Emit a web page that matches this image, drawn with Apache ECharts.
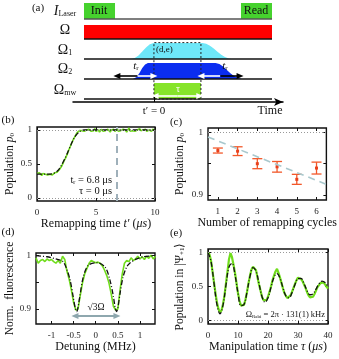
<!DOCTYPE html>
<html>
<head>
<meta charset="utf-8">
<script src="https://cdn.jsdelivr.net/npm/echarts@6/dist/echarts.min.js"></script>
<style>
    html, body {margin: 0; padding: 0; background: #fff;}
    #chart {width: 339px; height: 359px;}
</style>
</head>
<body>
<div id="chart"></div>
<script>
    const FONT = 'Liberation Serif';

    // (a) pulse scheme, time in schematic units 0..100
    const laserPulses = [[0, 16.5], [83.5, 100]];
    const omegaPulse = [0, 100];
    const mwPulse = [37.2, 62.2];
    const omega1Shape = [[25, 0], [27, 0.05], [29, 0.17], [31, 0.37], [33, 0.58], [35, 0.74], [37, 0.8],
        [63, 0.8], [65, 0.76], [67, 0.66], [69, 0.52], [71, 0.36], [73, 0.21], [75, 0.1], [77, 0.03], [78.5, 0]];
    const omega2Shape = [[26, 0], [28, 0.1], [29.5, 0.3], [31, 0.55], [32.5, 0.72], [34, 0.8],
        [70, 0.8], [72, 0.75], [74, 0.62], [76, 0.45], [78, 0.28], [80, 0.14], [82, 0.05], [84, 0]];
    const rampLeft = [17.5, 28.5, 37.2];   // outer tip, colour change, inner tip
    const rampRight = [62.2, 72.5, 83];
    const rowNames = ['{i|I}{s|Laser}', '{n|Ω}', '{n|Ω}{s|1}', '{n|Ω}{s|2}', '{n|Ω}{s|mw}'];
    const rowLabelPos = [4.4, 3.45, 2.45, 1.5, 0.45];

    // (b) remapping time scan
    const B_STEP = 0.1;
    const bPop = [0.36, 0.34, 0.37, 0.35, 0.33, 0.36, 0.34, 0.35, 0.37, 0.34, 0.33, 0.35, 0.36,
        0.34, 0.35, 0.37, 0.36, 0.38, 0.40, 0.42,
        0.44, 0.47, 0.51, 0.55, 0.58, 0.62, 0.66, 0.71, 0.75, 0.79, 0.83,
        0.87, 0.90, 0.93, 0.96, 0.98, 0.99, 1.00, 0.99, 1.01, 0.98,
        0.99, 1.00, 0.98, 1.01, 0.99, 0.98, 1.00, 0.99, 1.02, 0.98,
        0.99, 1.00, 0.97, 0.99, 1.01, 0.98, 1.00, 0.99, 0.98, 1.01,
        0.99, 0.97, 1.00, 0.99, 1.01, 0.98, 0.99, 1.02, 0.98, 1.00,
        0.99, 0.98, 1.01, 0.99, 1.00, 0.97, 0.99, 1.03, 0.98, 1.00,
        0.99, 1.01, 0.98, 0.99, 1.00, 0.98, 1.02, 0.99, 0.98, 1.00,
        0.99, 1.01, 0.98, 0.99, 1.00, 0.99, 0.98, 1.01, 0.99, 1.00];
    const bFitT = [0, 0.5, 1, 1.25, 1.5, 1.75, 2, 2.25, 2.5, 2.75, 3, 3.25, 3.5, 3.75, 4, 4.5, 5, 6, 7, 8, 9, 10];
    const bFit = [0.35, 0.35, 0.35, 0.355, 0.37, 0.40, 0.46, 0.54, 0.63, 0.73, 0.83, 0.91, 0.96, 0.99, 1.0, 1.0, 1.0, 1.0, 1.0, 1.0, 1.0, 1.0];
    const tRemap = 6.8;

    // (c) repeated remapping
    const cycles = [1, 2, 3, 4, 5, 6];
    const cPop = [0.971, 0.970, 0.950, 0.945, 0.925, 0.943];
    const cErr = [0.004, 0.007, 0.008, 0.0085, 0.008, 0.0095];
    const cTrendX = [0.5, 6.5];
    const cTrendY = [0.9926, 0.917];

    // (d) fluorescence spectrum
    const D_START = -1.35, D_STEP = 0.05;
    const dFl = [0.995, 0.985, 0.990, 0.992, 0.988, 0.993, 0.990, 0.992, 0.988, 0.985,
        0.990, 0.985, 0.998, 0.992, 0.970, 0.955, 0.935, 0.912, 0.898, 0.900,
        0.925, 0.948, 0.965, 0.975, 0.985, 0.990, 0.988, 0.986, 0.987, 0.985,
        0.980, 0.972, 0.962, 0.948, 0.928, 0.905, 0.898, 0.900, 0.935, 0.965,
        0.985, 0.990, 0.988, 0.995, 0.990, 0.993, 0.998, 0.993, 0.997, 0.992,
        0.998, 0.994, 1.000, 0.993, 0.998];
    const dFitX = [-1.35, -1.1, -0.9, -0.74, -0.66, -0.58, -0.51, -0.46, -0.43, -0.40, -0.36, -0.28, -0.17, 0.02,
        0.21, 0.32, 0.40, 0.44, 0.47, 0.50, 0.55, 0.62, 0.70, 0.77, 0.9, 1.07, 1.34];
    const dFit = [0.999, 0.997, 0.993, 0.988, 0.975, 0.954, 0.923, 0.900, 0.895, 0.903, 0.923, 0.960, 0.981, 0.986,
        0.978, 0.954, 0.923, 0.902, 0.895, 0.902, 0.929, 0.960, 0.978, 0.985, 0.992, 0.997, 0.999];
    const splitting = [-0.47, 0.48];

    // (e) Rabi oscillation
    const E_STEP = 0.5;
    const ePop = [1.0, 0.97, 0.88, 0.72, 0.56, 0.4, 0.26, 0.17, 0.12, 0.15,
        0.24, 0.37, 0.55, 0.72, 0.9, 0.99, 0.93, 0.82, 0.7, 0.55,
        0.4, 0.29, 0.22, 0.2, 0.23, 0.31, 0.42, 0.55, 0.66, 0.75,
        0.79, 0.8, 0.74, 0.63, 0.53, 0.44, 0.35, 0.3, 0.28, 0.3,
        0.35, 0.42, 0.5, 0.59, 0.66, 0.72, 0.76, 0.7, 0.63, 0.55,
        0.47, 0.4, 0.36, 0.33, 0.34, 0.37, 0.42, 0.48, 0.54, 0.59,
        0.63, 0.64, 0.61, 0.58, 0.53, 0.48, 0.42, 0.37, 0.34, 0.33,
        0.35, 0.39, 0.44, 0.49, 0.52, 0.55, 0.54, 0.56, 0.53, 0.5, 0.47];
    const eFit = [1.0, 0.868, 0.55, 0.232, 0.10, 0.227, 0.523, 0.786, 0.84, 0.671, 0.404,
        0.218, 0.235, 0.419, 0.648, 0.776, 0.726, 0.546, 0.352, 0.27, 0.335,
        0.488, 0.637, 0.689, 0.621, 0.48, 0.36, 0.335, 0.409, 0.529, 0.617,
        0.619, 0.544, 0.442, 0.379, 0.392, 0.461, 0.54, 0.58, 0.558, 0.495];

    const GREEN = '#70dd1c';
    const PULSE_H = 0.8;

    let chart = echarts.init(document.getElementById('chart'));

    function rich(size) {
        return {
            n: {fontFamily: FONT, fontSize: size, color: '#111'},
            i: {fontFamily: FONT, fontSize: size, fontStyle: 'italic', color: '#111'},
            s: {fontFamily: FONT, fontSize: Math.round(size * 0.6), color: '#111', verticalAlign: 'bottom'}
        };
    }

    let xAxes = [];
    let yAxes = [];
    let grids = [];

    // panel (a) scheme grid
    grids.push({left: 73, top: 0, width: 210, height: 102, show: false});
    xAxes.push({
        gridIndex: 0, type: 'value', min: -5.85, max: 105.85,
        axisLine: {show: true, onZero: false, symbol: ['none', 'arrow'], symbolSize: [6, 9], lineStyle: {color: '#000', width: 1.5}},
        axisTick: {show: false}, axisLabel: {show: false}, splitLine: {show: false}
    });
    yAxes.push({
        gridIndex: 0, type: 'value', min: -0.15, max: 4.95,
        axisLine: {show: false, onZero: false}, axisTick: {show: false}, splitLine: {show: false},
        axisLabel: {
            customValues: rowLabelPos, align: 'center', margin: 8,
            formatter: function (v) {
                let k = 0;
                rowLabelPos.forEach((p, i) => { if (Math.abs(p - v) < Math.abs(rowLabelPos[k] - v)) k = i; });
                return rowNames[k];
            },
            rich: rich(14)
        }
    });

    function framePanel(box, xr, yr, xTicks, yTicks, xLabels, yLabels, xName, yName, xGap, yGap) {
        let g = grids.length;
        grids.push({left: box[0], top: box[1], width: box[2], height: box[3], show: true, borderColor: '#111', borderWidth: 1.4});
        let tick = {inside: true, length: 3, lineStyle: {color: '#111', width: 1}};
        let noLine = {show: false, onZero: false};
        let xi = xAxes.length, yi = yAxes.length;
        xAxes.push({
            gridIndex: g, type: 'value', min: xr[0], max: xr[1], name: xName, nameLocation: 'middle', nameGap: xGap,
            nameTextStyle: {fontFamily: FONT, fontSize: 12, color: '#111', rich: rich(12)},
            axisLine: noLine, axisTick: Object.assign({customValues: xTicks}, tick),
            axisLabel: {customValues: xLabels, fontFamily: FONT, fontSize: 9, color: '#222', margin: 7},
            splitLine: {show: false}
        });
        xAxes.push({
            gridIndex: g, type: 'value', position: 'top', min: xr[0], max: xr[1],
            axisLine: noLine, axisTick: Object.assign({customValues: xTicks}, tick),
            axisLabel: {show: false}, splitLine: {show: false}
        });
        yAxes.push({
            gridIndex: g, type: 'value', min: yr[0], max: yr[1], name: yName, nameLocation: 'middle', nameGap: yGap,
            nameTextStyle: {fontFamily: FONT, fontSize: 11.5, color: '#111', rich: rich(11.5)},
            axisLine: noLine, axisTick: Object.assign({customValues: yTicks}, tick),
            axisLabel: {customValues: yLabels, fontFamily: FONT, fontSize: 9, color: '#222', margin: 5},
            splitLine: {show: false}
        });
        yAxes.push({
            gridIndex: g, type: 'value', position: 'right', min: yr[0], max: yr[1],
            axisLine: noLine, axisTick: Object.assign({customValues: yTicks}, tick),
            axisLabel: {show: false}, splitLine: {show: false}
        });
        return {xAxisIndex: xi, yAxisIndex: yi};
    }

    let pb = framePanel([37, 127, 118, 74], [0, 10], [-0.044, 1.044], [0, 5, 10], [0, 0.5, 1], [0, 5, 10], [0, 0.5, 1],
        '{n|Remapping time }{i|t′}{n| (}{i|μs}{n|)}', '{n|Population }{i|p}{s|0}', 15, 21);
    let pc = framePanel([208, 128, 120, 72], [0.5, 6.5], [0.892, 1.007], cycles, [0.9, 0.95, 1], cycles, [0.9, 1],
        '{n|Number of remapping cycles}', '{n|Population }{i|p}{s|0}', 15, 22);
    let pd = framePanel([36, 253, 119, 71], [-1.35, 1.34], [0.872, 1.004], [-1, -0.5, 0, 0.5, 1], [0.9, 0.95, 1],
        [-1, -0.5, 0, 0.5, 1], [0.9, 1], '{n|Detuning (MHz)}', '{n|Norm.  fluorescence}', 16, 20);
    let pe = framePanel([208, 249, 120, 75], [0, 40], [-0.05, 1.05], [0, 10, 20, 30, 40], [0, 0.5, 1],
        [0, 10, 20, 30, 40], [0, 0.5, 1], '{n|Manipulation time }{i|τ}{n| (}{i|μs}{n|)}', '{n|Population in |Ψ}{s|+1}{n|⟩}', 16, 22);

    let series = [];

    // ----- panel (a)
    const shapeDefs = [
        {pts: omega1Shape, row: 2, color: '#6ee7f8'},
        {pts: omega2Shape, row: 1, color: '#0b2df0'}
    ];
    series.push({
        type: 'custom', xAxisIndex: 0, yAxisIndex: 0, silent: true,
        data: shapeDefs.map((s, i) => [i, s.row]),
        renderItem: function (params, api) {
            let s = shapeDefs[params.dataIndex];
            let pts = s.pts.map(p => api.coord([p[0], s.row + p[1]]));
            return {type: 'polygon', shape: {points: pts}, style: {fill: s.color}};
        }
    });
    const rectDefs = [
        {t: laserPulses[0], row: 4, h: PULSE_H, color: '#46d22e'},
        {t: laserPulses[1], row: 4, h: PULSE_H, color: '#46d22e'},
        {t: omegaPulse, row: 3, h: 0.7, color: '#ff0000'},
        {t: mwPulse, row: 0, h: PULSE_H, color: '#86e42a'}
    ];
    series.push({
        type: 'custom', xAxisIndex: 0, yAxisIndex: 0, silent: true,
        data: rectDefs.map(r => [r.t[0], r.t[1], r.row]),
        renderItem: function (params, api) {
            let r = rectDefs[params.dataIndex];
            let p0 = api.coord([r.t[0], r.row + r.h]);
            let p1 = api.coord([r.t[1], r.row]);
            return {type: 'rect', shape: {x: p0[0], y: p0[1], width: p1[0] - p0[0], height: p1[1] - p0[1]}, style: {fill: r.color}};
        }
    });
    const rowBase = [4, 3, 2, 1, 0];
    series.push({
        type: 'custom', xAxisIndex: 0, yAxisIndex: 0, silent: true,
        data: rowBase.map(v => [0, v]),
        renderItem: function (params, api) {
            let v = rowBase[params.dataIndex];
            let p0 = api.coord([0, v]), p1 = api.coord([100, v]);
            return {type: 'line', shape: {x1: p0[0], y1: p0[1], x2: p1[0], y2: p1[1]},
                style: {stroke: v === 4 ? '#555' : '#111', lineWidth: 1.6}};
        }
    });
    function arrow(from, to, v, color) {
        return [
            {coord: [from, v], symbol: 'none', lineStyle: {color: color, width: 1.6, type: 'solid'}},
            {coord: [to, v], symbol: 'triangle', lineStyle: {color: color, width: 1.6, type: 'solid'}}
        ];
    }
    const tauMid = (mwPulse[0] + mwPulse[1]) / 2;
    series.push({
        type: 'line', xAxisIndex: 0, yAxisIndex: 0, silent: true, z: 10, data: [[50, 2]], showSymbol: false,
        lineStyle: {opacity: 0},
        markArea: {
            silent: true, z: 10,
            itemStyle: {color: 'rgba(0,0,0,0)', borderColor: '#222', borderWidth: 1, borderType: [2, 2]},
            data: [[{coord: [mwPulse[0], 0]}, {coord: [mwPulse[1], 2.82]}]]
        },
        markLine: {
            silent: true, z: 11, symbolSize: [6, 7], label: {show: false},
            data: [
                arrow(rampLeft[1], rampLeft[0], 1.15, '#000'),
                arrow(rampLeft[1], rampLeft[2], 1.15, '#fff'),
                arrow(rampRight[1], rampRight[0], 1.15, '#fff'),
                arrow(rampRight[1], rampRight[2], 1.15, '#000'),
                arrow(tauMid, mwPulse[0] + 0.6, 0.15, '#fff'),
                arrow(tauMid, mwPulse[1] - 0.6, 0.15, '#fff'),
                [{coord: [mwPulse[0], -0.15], symbol: 'none', lineStyle: {color: '#000', width: 1, type: 'solid'}},
                    {coord: [mwPulse[0], 0.1], symbol: 'none'}]
            ]
        }
    });

    // ----- panel (b)
    series.push({
        type: 'line', xAxisIndex: pb.xAxisIndex, yAxisIndex: pb.yAxisIndex, silent: true, showSymbol: false,
        data: bPop.map((v, i) => [i * B_STEP, v]), lineStyle: {color: GREEN, width: 1.6},
        markLine: {
            silent: true, symbol: 'none', label: {show: false},
            data: [
                {yAxis: 1, lineStyle: {color: '#999', type: [1, 2], width: 1}},
                {yAxis: 0, lineStyle: {color: '#999', type: [1, 2], width: 1}},
                {xAxis: tRemap, lineStyle: {color: '#9fb0ba', type: [7, 5], width: 2}}
            ]
        }
    });
    series.push({
        type: 'line', xAxisIndex: pb.xAxisIndex, yAxisIndex: pb.yAxisIndex, silent: true, showSymbol: false, smooth: 0.4,
        data: bFitT.map((t, i) => [t, bFit[i]]), lineStyle: {color: '#111', width: 1.3, type: [5, 2, 1, 2]}
    });

    // ----- panel (c)
    series.push({
        type: 'line', xAxisIndex: pc.xAxisIndex, yAxisIndex: pc.yAxisIndex, silent: true, showSymbol: false,
        data: cTrendX.map((x, i) => [x, cTrendY[i]]), lineStyle: {color: '#a9c8cd', width: 1.6, type: [7, 5]},
        markLine: {
            silent: true, symbol: 'none', label: {show: false},
            data: [{yAxis: 1, lineStyle: {color: '#999', type: [1, 2], width: 1}}]
        }
    });
    series.push({
        type: 'custom', xAxisIndex: pc.xAxisIndex, yAxisIndex: pc.yAxisIndex, silent: true,
        data: cycles.map((c, i) => [c, cPop[i], cPop[i] - cErr[i], cPop[i] + cErr[i]]),
        renderItem: function (params, api) {
            let c = api.coord([api.value(0), api.value(1)]);
            let lo = api.coord([api.value(0), api.value(2)]);
            let hi = api.coord([api.value(0), api.value(3)]);
            let st = {stroke: '#f2582a', lineWidth: 1.3};
            return {
                type: 'group', children: [
                    {type: 'line', shape: {x1: c[0], y1: lo[1], x2: c[0], y2: hi[1]}, style: st},
                    {type: 'line', shape: {x1: c[0] - 5, y1: lo[1], x2: c[0] + 5, y2: lo[1]}, style: st},
                    {type: 'line', shape: {x1: c[0] - 5, y1: hi[1], x2: c[0] + 5, y2: hi[1]}, style: st},
                    {type: 'rect', shape: {x: c[0] - 1.5, y: c[1] - 1.5, width: 3, height: 3}, style: {fill: '#e8401c'}}
                ]
            };
        }
    });

    // ----- panel (d)
    series.push({
        type: 'line', xAxisIndex: pd.xAxisIndex, yAxisIndex: pd.yAxisIndex, silent: true, showSymbol: false,
        data: dFl.map((v, i) => [D_START + i * D_STEP, v]), lineStyle: {color: GREEN, width: 1.6},
        markLine: {
            silent: true, symbol: ['triangle', 'triangle'], symbolSize: [6, 7], label: {show: false},
            data: [[{coord: [splitting[0], 0.887]}, {coord: [splitting[1], 0.887]}]],
            lineStyle: {color: '#8ea7ae', width: 1.8, type: 'solid'}
        }
    });
    series.push({
        type: 'line', xAxisIndex: pd.xAxisIndex, yAxisIndex: pd.yAxisIndex, silent: true, showSymbol: false, smooth: 0.3,
        data: dFitX.map((x, i) => [x, dFit[i]]), lineStyle: {color: '#111', width: 1.3, type: [5, 2, 1, 2]}
    });

    // ----- panel (e)
    series.push({
        type: 'line', xAxisIndex: pe.xAxisIndex, yAxisIndex: pe.yAxisIndex, silent: true, showSymbol: false,
        data: ePop.map((v, i) => [i * E_STEP, v]), lineStyle: {color: GREEN, width: 2.2},
        markLine: {
            silent: true, symbol: 'none', label: {show: false},
            data: [
                {yAxis: 1, lineStyle: {color: '#999', type: [1, 2], width: 1}},
                {yAxis: 0, lineStyle: {color: '#999', type: [1, 2], width: 1}}
            ]
        }
    });
    series.push({
        type: 'line', xAxisIndex: pe.xAxisIndex, yAxisIndex: pe.yAxisIndex, silent: true, showSymbol: false, smooth: 0.4,
        data: eFit.map((v, i) => [i, v]), lineStyle: {color: '#111', width: 1.3, type: [5, 2, 1, 2]}
    });

    function txt(x, y, text, size, align, extra) {
        return {
            type: 'text', x: x, y: y, z: 100, silent: true,
            style: Object.assign({
                text: text, fontFamily: FONT, fontSize: size, fill: '#111',
                textAlign: align || 'center', align: align || 'center',
                textVerticalAlign: 'middle', verticalAlign: 'middle', rich: rich(size)
            }, extra || {})
        };
    }

    let option = {
        animation: false,
        backgroundColor: '#fff',
        grid: grids,
        xAxis: xAxes,
        yAxis: yAxes,
        series: series,
        graphic: [
            txt(38, 8, '(a)', 11),
            txt(99, 11, 'Init', 12),
            txt(256, 11, 'Read', 12),
            txt(156, 50, '(d,e)', 9, 'left'),
            txt(136, 66, '{i|t}{s|r}', 11),
            txt(225, 66, '{i|t}{s|r}', 11),
            txt(178, 89, 'τ', 10, 'center', {fill: '#fff'}),
            txt(154, 111, 't′ = 0', 11),
            txt(270, 111, 'Time', 12),
            txt(8, 120, '(b)', 11),
            txt(176, 122, '(c)', 11),
            txt(8, 232, '(d)', 11),
            txt(176, 233, '(e)', 11),
            txt(112, 180, '{n|t}{s|r}{n| = 6.8 μs}', 10.5, 'right'),
            txt(112, 191, 'τ = 0 μs', 10.5, 'right'),
            txt(96, 307, '√3Ω', 9.5),
            txt(325, 315, '{n|Ω}{s|Rabi}{n| = 2π · 131(1) kHz}', 8.5, 'right')
        ]
    };
    chart.setOption(option);
</script>
</body>
</html>
